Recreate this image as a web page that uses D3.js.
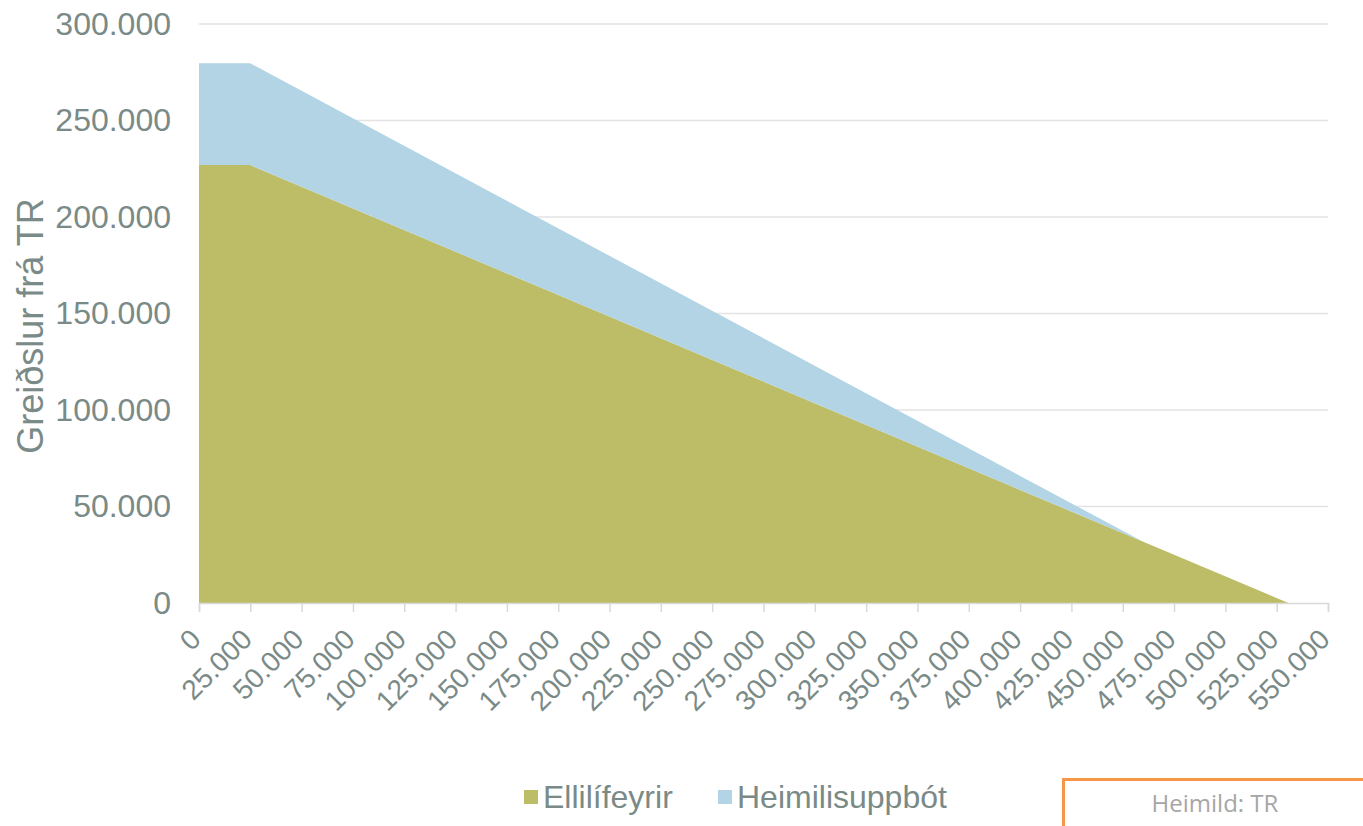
<!DOCTYPE html>
<html>
<head>
<meta charset="utf-8">
<script src="https://cdn.jsdelivr.net/npm/d3@7"></script>
<style>
  body { margin: 0; background: #fff; }
  svg { display: block; }
</style>
</head>
<body>
<div id="chart"></div>
<script>
// Data
const incomes = [0, 25000, 460000, 530700];
const ellilifeyrir = [226900, 226900, 31700, 0];
const heimilisuppbot = [52700, 52700, 0, 0];
const seriesNames = ["Ellilífeyrir", "Heimilisuppbót"];
const xTicks = d3.range(0, 550001, 25000);
const yTicks = [0, 50000, 100000, 150000, 200000, 250000, 300000];

const width = 1363;
const height = 826;
const margin = { top: 24, right: 35, bottom: 223, left: 199 };
const textColor = "#7a8a87";
const fontFamily = "Liberation Sans, Arial, sans-serif";
const colors = ["#bcbd66", "#b3d4e4"];

const fmt = (v) => v === 0 ? "0" : d3.format(",")(v).replace(/,/g, ".");

const svg = d3.select("#chart")
    .append("svg")
    .attr("width", width)
    .attr("height", height);

const x = d3.scaleLinear()
    .domain([0, 550000])
    .range([margin.left, width - margin.right]);

const y = d3.scaleLinear()
    .domain([0, 300000])
    .range([height - margin.bottom, margin.top]);

// Gridlines
svg.append("g")
    .selectAll("line")
    .data(yTicks.filter(d => d > 0))
    .join("line")
    .attr("x1", x(0))
    .attr("x2", x(550000))
    .attr("y1", d => y(d))
    .attr("y2", d => y(d))
    .attr("stroke", "#e3e3e3")
    .attr("stroke-width", 1.5);

// Stacked areas
const rows = incomes.map((d, i) => ({ x: d, e: ellilifeyrir[i], h: heimilisuppbot[i] }));
const stacked = d3.stack().keys(["e", "h"])(rows);

const area = d3.area()
    .x(d => x(d.data.x))
    .y0(d => y(d[0]))
    .y1(d => y(d[1]));

svg.append("g")
    .selectAll("path")
    .data(stacked)
    .join("path")
    .attr("fill", (d, i) => colors[i])
    .attr("d", area);

// X axis
const xAxis = svg.append("g")
    .attr("transform", `translate(0,${y(0)})`)
    .call(d3.axisBottom(x).tickValues(xTicks).tickSize(9).tickFormat(fmt));
xAxis.select(".domain").attr("stroke", "#d9d9d9").attr("stroke-width", 1.5);
xAxis.selectAll(".tick line").attr("stroke", "#d9d9d9").attr("stroke-width", 1.5);
xAxis.selectAll(".tick text")
    .attr("fill", textColor)
    .attr("font-family", fontFamily)
    .attr("font-size", 28)
    .attr("text-anchor", "end")
    .attr("x", 0)
    .attr("y", 0)
    .attr("dy", 0)
    .attr("transform", "translate(3,38) rotate(-45)");

// Y axis labels
const yAxis = svg.append("g")
    .attr("transform", `translate(${x(0)},0)`)
    .call(d3.axisLeft(y).tickValues(yTicks).tickSize(0).tickPadding(28).tickFormat(fmt));
yAxis.select(".domain").remove();
yAxis.selectAll(".tick text")
    .attr("fill", textColor)
    .attr("font-family", fontFamily)
    .attr("font-size", 32);

// Y axis title
svg.append("text")
    .attr("transform", `translate(43,326) rotate(-90)`)
    .attr("text-anchor", "middle")
    .attr("fill", textColor)
    .attr("font-family", fontFamily)
    .attr("font-size", 36)
    .text("Greiðslur frá TR");

// Legend
const legendX = [524, 718];
const legend = svg.append("g")
    .selectAll("g")
    .data(seriesNames)
    .join("g")
    .attr("transform", (d, i) => `translate(${legendX[i]},797)`);
legend.append("rect")
    .attr("x", 0)
    .attr("y", -7)
    .attr("width", 14)
    .attr("height", 14)
    .attr("fill", (d, i) => colors[i]);
legend.append("text")
    .attr("x", 19)
    .attr("y", 11)
    .attr("fill", textColor)
    .attr("font-family", fontFamily)
    .attr("font-size", 32)
    .text(d => d);

// Source box
svg.append("rect")
    .attr("x", 1063.5)
    .attr("y", 779.5)
    .attr("width", 320)
    .attr("height", 80)
    .attr("fill", "#fff")
    .attr("stroke", "#f79646")
    .attr("stroke-width", 3);
svg.append("text")
    .attr("x", 1215)
    .attr("y", 812)
    .attr("text-anchor", "middle")
    .attr("fill", "#a6a6a6")
    .attr("font-family", "Open Sans, sans-serif")
    .attr("font-size", 24)
    .text("Heimild: TR");
</script>
</body>
</html>
